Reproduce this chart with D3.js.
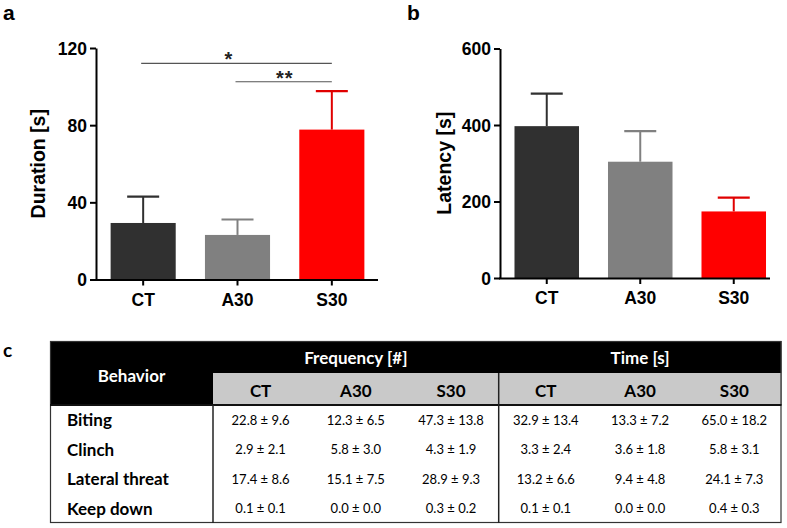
<!DOCTYPE html>
<html>
<head>
<meta charset="utf-8">
<script src="https://cdn.jsdelivr.net/npm/d3@7"></script>
<style>
  html, body { margin: 0; padding: 0; background: #fff; }
  svg { display: block; }
</style>
</head>
<body>
<svg id="chart" width="787" height="528"></svg>
<script>
// ---------------- data ----------------
const groups = ["CT", "A30", "S30"];
const groupColors = ["#303030", "#808080", "#ff0000"];

const durationMean = [29.3, 23.1, 77.7];
const durationErr  = [13.7, 8.0, 19.9];
const durationTicks = [0, 40, 80, 120];

const latencyMean = [397, 304, 174];
const latencyErr  = [85, 80, 36];
const latencyTicks = [0, 200, 400, 600];

const sigPairs = [
  { from: "CT",  to: "S30", label: "*",  level: 112 },
  { from: "A30", to: "S30", label: "**", level: 102.5 }
];

const behaviors = ["Biting", "Clinch", "Lateral threat", "Keep down"];
const freqMean = [[22.8, 12.3, 47.3], [2.9, 5.8, 4.3], [17.4, 15.1, 28.9], [0.1, 0.0, 0.3]];
const freqSD   = [[9.6, 6.5, 13.8], [2.1, 3.0, 1.9], [8.6, 7.5, 9.3], [0.1, 0.0, 0.2]];
const timeMean = [[32.9, 13.3, 65.0], [3.3, 3.6, 5.8], [13.2, 9.4, 24.1], [0.1, 0.0, 0.4]];
const timeSD   = [[13.4, 7.2, 18.2], [2.4, 1.8, 3.1], [6.6, 4.8, 7.3], [0.1, 0.0, 0.3]];
const tableHeaders = ["Behavior", "Frequency [#]", "Time [s]"];

// ---------------- drawing ----------------
const svg = d3.select("#chart");
const AX_FONT = "'Liberation Sans', Arial, sans-serif";
const TB_FONT = "Lato, 'Open Sans', sans-serif";

function barPanel(opt) {
  const g = svg.append("g");
  const x = d3.scaleBand().domain(groups).range([opt.x0, opt.x1])
    .paddingInner(0.31).paddingOuter(0.155);
  const y = d3.scaleLinear().domain([0, opt.max]).range([opt.y0, opt.y1]);

  // bars
  g.selectAll("rect.bar").data(groups).join("rect")
    .attr("x", d => x(d)).attr("width", x.bandwidth())
    .attr("y", (d, i) => y(opt.mean[i]))
    .attr("height", (d, i) => y(0) - y(opt.mean[i]))
    .attr("fill", (d, i) => groupColors[i]);

  // error bars (upper only)
  const cap = 16;
  groups.forEach((d, i) => {
    const cx = x(d) + x.bandwidth() / 2;
    const col = i === 2 ? "#e00000" : groupColors[i];
    g.append("line").attr("x1", cx).attr("x2", cx)
      .attr("y1", y(opt.mean[i])).attr("y2", y(opt.mean[i] + opt.err[i]))
      .attr("stroke", col).attr("stroke-width", 2);
    g.append("line").attr("x1", cx - cap).attr("x2", cx + cap)
      .attr("y1", y(opt.mean[i] + opt.err[i])).attr("y2", y(opt.mean[i] + opt.err[i]))
      .attr("stroke", col).attr("stroke-width", 2.2);
  });

  // y axis
  const ya = g.append("g").attr("transform", `translate(${opt.x0},0)`)
    .call(d3.axisLeft(y).tickValues(opt.ticks).tickSize(6).tickPadding(3).tickSizeOuter(0));
  ya.select(".domain").attr("stroke", "#000").attr("stroke-width", 2);
  ya.selectAll(".tick line").attr("stroke", "#000").attr("stroke-width", 2);
  ya.selectAll(".tick text").attr("font-family", AX_FONT).attr("font-weight", "bold")
    .attr("font-size", 17.5).attr("fill", "#000").attr("dy", "0.36em");

  // x axis
  const xa = g.append("g").attr("transform", `translate(0,${opt.y0})`)
    .call(d3.axisBottom(x).tickSize(6).tickPadding(8).tickSizeOuter(0));
  xa.select(".domain").attr("d", `M${opt.x0 - 1},0.5H${opt.axisEnd}`)
    .attr("stroke", "#000").attr("stroke-width", 2);
  xa.selectAll(".tick line").attr("stroke", "#000").attr("stroke-width", 2);
  xa.selectAll(".tick text").attr("font-family", AX_FONT).attr("font-weight", "bold")
    .attr("font-size", 17.5).attr("fill", "#000");

  // y label
  g.append("text")
    .attr("transform", `translate(${opt.labelX},${(opt.y0 + opt.y1) / 2}) rotate(-90)`)
    .attr("text-anchor", "middle")
    .attr("font-family", AX_FONT).attr("font-weight", "bold").attr("font-size", 19.5)
    .text(opt.label);

  return { g, x, y };
}

const pa = barPanel({
  x0: 96, x1: 379, y0: 279.5, y1: 48, max: 120, axisEnd: 378,
  mean: durationMean, err: durationErr, ticks: durationTicks,
  label: "Duration [s]", labelX: 45
});
const pb = barPanel({
  x0: 500, x1: 780.5, y0: 278, y1: 48.5, max: 600, axisEnd: 770,
  mean: latencyMean, err: latencyErr, ticks: latencyTicks,
  label: "Latency [s]", labelX: 451
});

// significance
sigPairs.forEach(s => {
  const xa0 = pa.x(s.from) + pa.x.bandwidth() / 2 - 2;
  const xa1 = pa.x(s.to) + pa.x.bandwidth() / 2;
  const yy = pa.y(s.level);
  pa.g.append("line").attr("x1", xa0).attr("x2", xa1).attr("y1", yy).attr("y2", yy)
    .attr("stroke", "#555").attr("stroke-width", 1.2);
  pa.g.append("text").attr("x", (s.label === "*" ? (xa0 + xa1) / 2 - 8 : (xa0 + xa1) / 2 + 1))
    .attr("y", yy + 3).attr("text-anchor", "middle")
    .attr("font-family", AX_FONT).attr("font-weight", "bold").attr("font-size", 20)
    .attr("fill", "#222")
    .attr("letter-spacing", s.label === "**" ? 1 : 0)
    .text(s.label);
});

// panel labels
[["a", 3, 19.5], ["b", 407, 19.5]].forEach(([t, x, y]) => {
  svg.append("text").attr("x", x).attr("y", y)
    .attr("font-family", AX_FONT).attr("font-weight", "bold").attr("font-size", 21).text(t);
});
svg.append("text").attr("x", 3).attr("y", 357)
  .attr("font-family", TB_FONT).attr("font-weight", "bold").attr("font-size", 19).text("c");

// ---------------- table ----------------
const T = { left: 50, right: 781.5, top: 341, mid: 373, head: 405, bottom: 523, bCol: 213, div: 498.7 };
const tg = svg.append("g");
const freqCols = d3.scaleBand().domain(groups).range([T.bCol, T.div]);
const timeCols = d3.scaleBand().domain(groups).range([T.div, T.right]);
const rowY = d3.scaleBand().domain(behaviors).range([T.head, T.bottom]);

tg.append("rect").attr("x", T.left).attr("y", T.top).attr("width", T.right - T.left)
  .attr("height", T.head - T.top).attr("fill", "#000");
tg.append("rect").attr("x", T.bCol).attr("y", T.mid).attr("width", T.right - T.bCol)
  .attr("height", T.head - T.mid).attr("fill", "#c9c9c9");
// lines
tg.append("rect").attr("x", T.left + 0.5).attr("y", T.top + 0.5)
  .attr("width", T.right - T.left - 1).attr("height", T.bottom - T.top - 1)
  .attr("fill", "none").attr("stroke", "#333").attr("stroke-width", 1.2);
tg.append("line").attr("x1", T.left).attr("x2", T.right).attr("y1", T.head).attr("y2", T.head)
  .attr("stroke", "#111").attr("stroke-width", 2);
tg.append("line").attr("x1", T.bCol).attr("x2", T.bCol).attr("y1", T.head).attr("y2", T.bottom)
  .attr("stroke", "#222").attr("stroke-width", 1.5);
tg.append("line").attr("x1", T.div).attr("x2", T.div).attr("y1", T.mid).attr("y2", T.bottom)
  .attr("stroke", "#222").attr("stroke-width", 1.5);

// header texts
function txt(x, y, s, o) {
  return tg.append("text").attr("x", x).attr("y", y).attr("text-anchor", o.anchor || "middle")
    .attr("dominant-baseline", "central")
    .attr("font-family", TB_FONT).attr("font-weight", o.weight || "normal")
    .attr("font-size", o.size).attr("fill", o.fill || "#000").text(s);
}
txt((T.left + T.bCol) / 2, 375, tableHeaders[0], { weight: "bold", size: 17, fill: "#fff" });
txt((T.bCol + T.div) / 2, 357, tableHeaders[1], { weight: "bold", size: 17, fill: "#fff" });
txt((T.div + T.right) / 2, 357, tableHeaders[2], { weight: "bold", size: 17, fill: "#fff" });
groups.forEach(gname => {
  txt(freqCols(gname) + freqCols.bandwidth() / 2, 390, gname, { weight: "bold", size: 17 });
  txt(timeCols(gname) + timeCols.bandwidth() / 2, 390, gname, { weight: "bold", size: 17 });
});

const fmt = (m, s) => `${m.toFixed(1)} ± ${s.toFixed(1)}`;
behaviors.forEach((b, r) => {
  const cy = rowY(b) + rowY.bandwidth() / 2;
  txt(67, cy, b, { weight: "bold", size: 17, anchor: "start" });
  groups.forEach((gname, c) => {
    txt(freqCols(gname) + freqCols.bandwidth() / 2, cy, fmt(freqMean[r][c], freqSD[r][c]), { size: 13 });
    txt(timeCols(gname) + timeCols.bandwidth() / 2, cy, fmt(timeMean[r][c], timeSD[r][c]), { size: 13 });
  });
});
</script>
</body>
</html>
